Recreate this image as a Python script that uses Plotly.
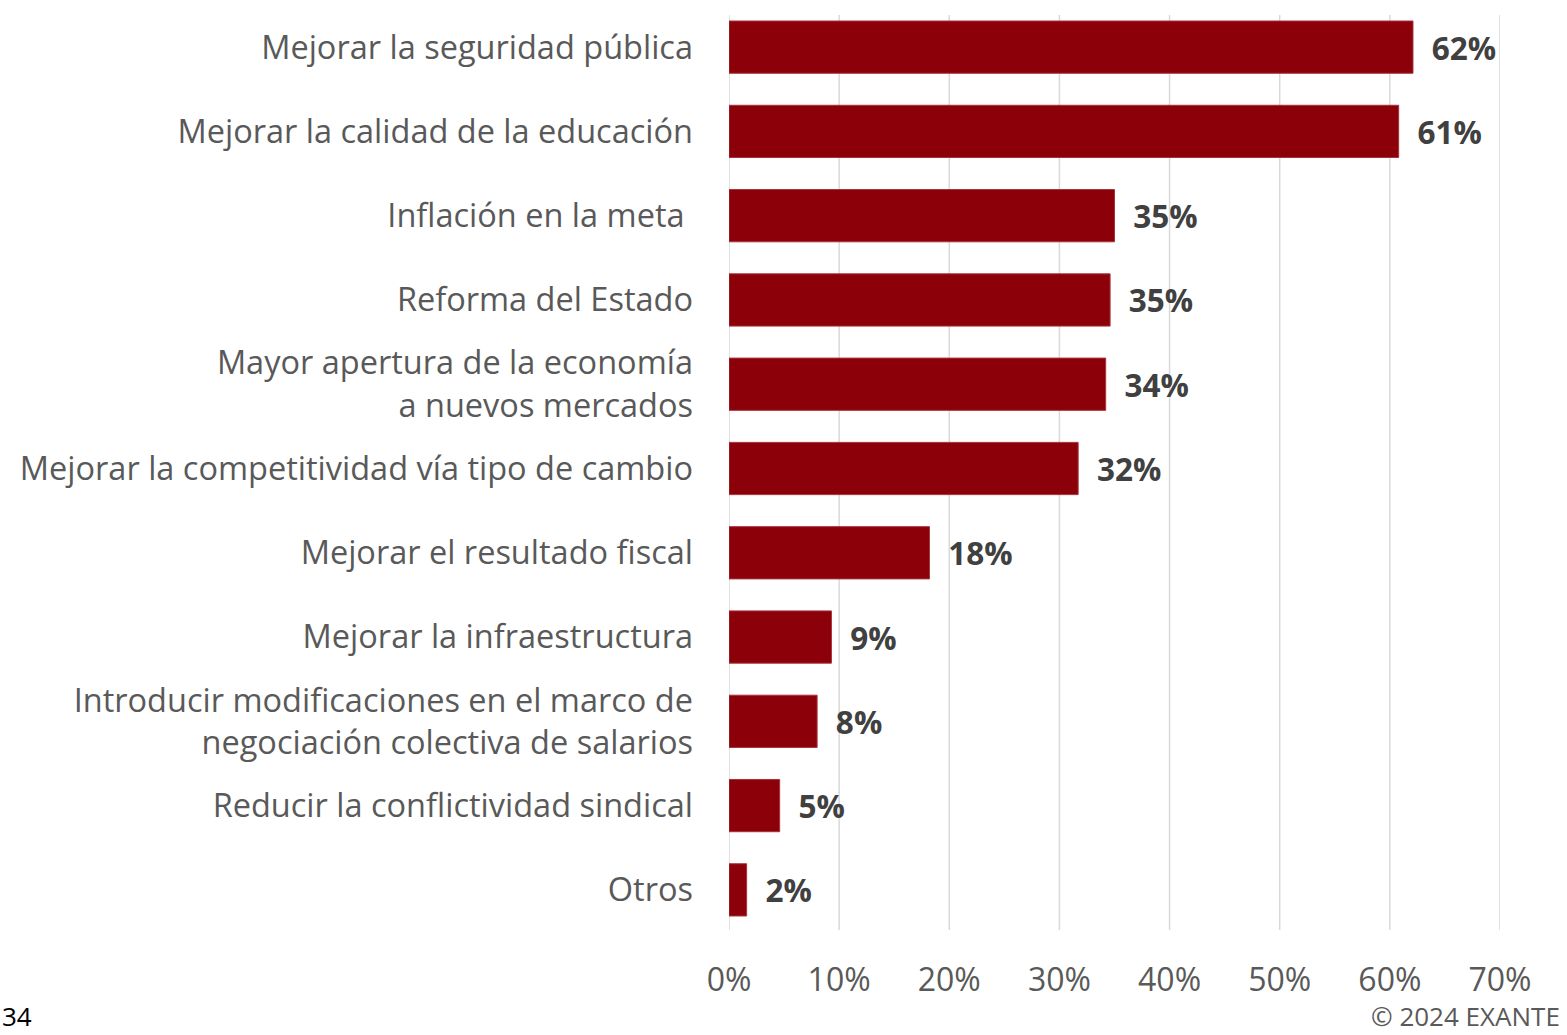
import plotly.graph_objects as go

categories = [
    "Mejorar la seguridad pública",
    "Mejorar la calidad de la educación",
    "Inflación en la meta ",
    "Reforma del Estado",
    "Mayor apertura de la economía<br>a nuevos mercados",
    "Mejorar la competitividad vía tipo de cambio",
    "Mejorar el resultado fiscal",
    "Mejorar la infraestructura",
    "Introducir modificaciones en el marco de<br>negociación colectiva de salarios",
    "Reducir la conflictividad sindical",
    "Otros",
]
shares = [0.621, 0.608, 0.350, 0.346, 0.342, 0.317, 0.182, 0.093, 0.080, 0.046, 0.016]
x_ticks = [0, 0.1, 0.2, 0.3, 0.4, 0.5, 0.6, 0.7]
x_tick_labels = ["0%", "10%", "20%", "30%", "40%", "50%", "60%", "70%"]

W, H = 1567, 1035
ML, MR, MT, MB = 729, 67, 5, 103
FONT = "Open Sans"
GRID = "#D9D9D9"

plot_w = W - ML - MR
plot_h = H - MT - MB

fig = go.Figure(
    go.Bar(
        x=shares,
        y=categories,
        orientation="h",
        width=0.62,
        marker=dict(color="#8B0009", line=dict(color="#A8323A", width=1)),
        text=shares,
        texttemplate="\u2002<b>%{x:.0%}</b>",
        textposition="outside",
        textfont=dict(family=FONT, size=31.5, color="#404040"),
        cliponaxis=False,
    )
)

# vertical gridlines, slightly shorter than the category band at the top
grid_top = (H - MB - 15) / plot_h
grid_bot = (H - MB - 930) / plot_h
for v in x_ticks:
    fig.add_shape(
        type="line", xref="x", yref="paper",
        x0=v, x1=v, y0=grid_bot, y1=grid_top,
        line=dict(color=GRID, width=1.5), layer="below",
    )

fig.update_layout(
    width=W,
    height=H,
    margin=dict(l=ML, r=MR, t=MT, b=MB),
    paper_bgcolor="white",
    plot_bgcolor="white",
    showlegend=False,
    font=dict(family=FONT, color="#595959"),
    xaxis=dict(
        range=[0, 0.7],
        tickvals=x_ticks,
        ticktext=x_tick_labels,
        showgrid=False,
        zeroline=False,
        showline=False,
        tickfont=dict(family=FONT, size=32, color="#595959"),
        ticklabelstandoff=26,
        fixedrange=True,
    ),
    yaxis=dict(
        autorange="reversed",
        showline=False,
        showgrid=False,
        ticks="",
        tickfont=dict(family=FONT, size=32.5, color="#595959"),
        ticklabelstandoff=35,
        fixedrange=True,
    ),
)

footer_y = -(1016 - (H - MB)) / plot_h
fig.add_annotation(
    text="34", xref="paper", yref="paper",
    x=-ML / plot_w, y=footer_y,
    xanchor="left", yanchor="middle", showarrow=False,
    font=dict(family=FONT, size=26, color="#000000"),
)
fig.add_annotation(
    text="© 2024 EXANTE", xref="paper", yref="paper",
    x=(1562 - ML) / plot_w, y=footer_y,
    xanchor="right", yanchor="middle", showarrow=False,
    font=dict(family=FONT, size=26, color="#595959"),
)

fig.write_html("out.html")
